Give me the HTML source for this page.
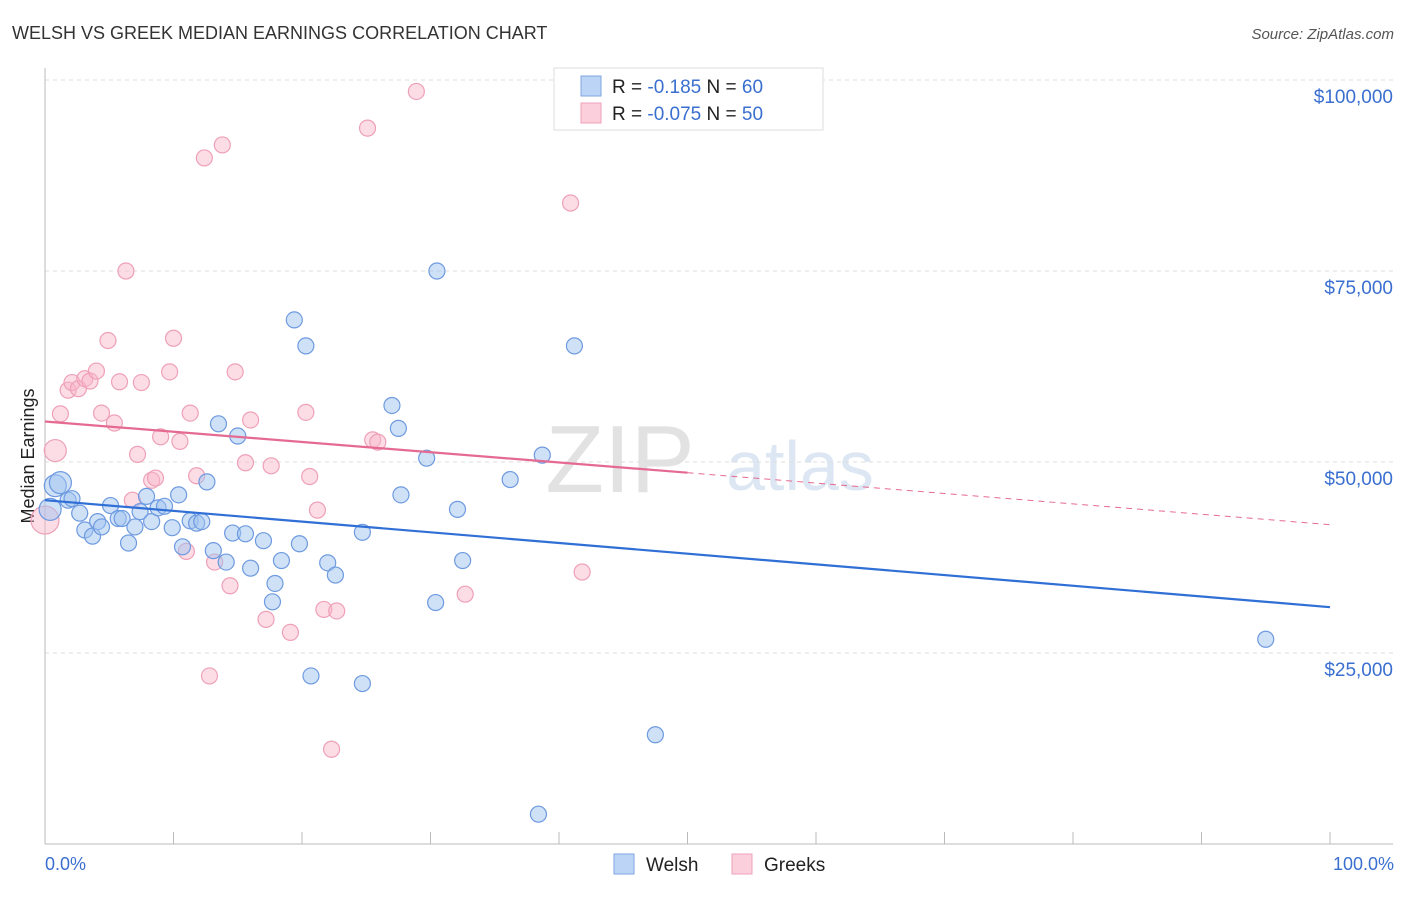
<!DOCTYPE html>
<html><head><meta charset="utf-8"><style>
body{margin:0;background:#fff;font-family:"Liberation Sans",sans-serif}
svg text{font-family:"Liberation Sans",sans-serif}
</style></head><body>
<svg width="1406" height="892" xmlns="http://www.w3.org/2000/svg">
<text x="12" y="39" font-size="18" fill="#333">WELSH VS GREEK MEDIAN EARNINGS CORRELATION CHART</text>
<text x="1394" y="39" font-size="15" fill="#555" font-style="italic" text-anchor="end">Source: ZipAtlas.com</text>
<text x="620" y="492" font-size="96" fill="#e2e2e2" font-family="Liberation Serif" text-anchor="middle">ZIP</text>
<text x="800" y="490" font-size="70" fill="#dde6f3" text-anchor="middle">atlas</text>
<g id="grid"></g>
<g id="axes"></g>
<text x="34" y="456" font-size="18" fill="#222" text-anchor="middle" transform="rotate(-90 34 456)">Median Earnings</text>
<text x="45" y="870" font-size="18" fill="#3a6fd0">0.0%</text>
<text x="1394" y="870" font-size="18" fill="#3a6fd0" text-anchor="end">100.0%</text>
<g id="pts"></g>
<g id="lines"></g>
<g>
<rect x="554" y="68" width="269" height="62" fill="#fff" stroke="#ddd"/>
<rect x="581" y="76" width="20" height="20" fill="#bcd4f5" stroke="#7fa6e0"/>
<rect x="581" y="103" width="20" height="20" fill="#fbd0dc" stroke="#eea0b8"/>
<text x="612" y="93" font-size="19" fill="#222">R = <tspan fill="#3a6fd0"> -0.185</tspan>   N = <tspan fill="#3a6fd0">60</tspan></text>
<text x="612" y="120" font-size="19" fill="#222">R = <tspan fill="#3a6fd0">-0.075</tspan>   N = <tspan fill="#3a6fd0">50</tspan></text>
</g>
<g>
<rect x="614" y="854" width="20" height="20" fill="#bcd4f5" stroke="#7fa6e0"/>
<text x="646" y="871" font-size="19" fill="#222">Welsh</text>
<rect x="732" y="854" width="20" height="20" fill="#fbd0dc" stroke="#eea0b8"/>
<text x="764" y="871" font-size="19" fill="#222">Greeks</text>
</g>
</svg>
<script>
const yTicks=[25000,50000,75000,100000];
const yTickLabels=["$25,000","$50,000","$75,000","$100,000"];
const xTicks=[0,10,20,30,40,50,60,70,80,90,100];
const welshX=[0.8,1.2,1.8,2.1,2.7,3.1,3.7,4.1,4.4,5.1,5.7,6.0,6.5,7.0,7.4,7.9,8.3,8.8,9.3,9.9,10.4,10.7,11.3,11.8,12.2,12.6,13.1,13.5,14.1,14.6,15.0,15.6,16.0,17.0,17.7,17.9,18.4,19.4,19.8,20.3,20.7,22.0,22.6,24.7,24.7,27.0,27.5,27.7,29.7,30.4,30.5,32.1,32.5,36.2,38.7,38.4,41.2,47.5,95.0,0.4];
const welshY=[46900,47300,45000,45200,43300,41100,40300,42200,41500,44300,42600,42600,39400,41500,43500,45500,42200,44000,44200,41400,45700,38900,42300,42000,42200,47400,38400,55000,36900,40700,53400,40600,36100,39700,31700,34100,37100,68600,39300,65200,22000,36800,35200,21000,40800,57400,54400,45700,50500,31600,75000,43800,37100,47700,50900,3900,65200,14300,26800,43800];
const greekX=[0.0,0.8,1.2,1.8,2.1,2.6,3.1,3.5,4.0,4.4,4.9,5.4,5.8,6.3,6.8,7.2,7.5,8.3,8.6,9.0,9.7,10.0,10.5,11.0,11.3,11.8,12.4,12.8,13.2,13.8,14.4,14.8,15.6,16.0,17.2,17.6,19.1,20.3,20.6,21.2,21.7,22.3,22.7,25.1,25.5,25.9,28.9,32.7,40.9,41.8];
const greekY=[42400,51500,56300,59400,60400,59600,60900,60600,61900,56400,65900,55100,60500,75000,45000,51000,60400,47600,47900,53300,61800,66200,52700,38300,56400,48200,89800,22000,36900,91500,33800,61800,49900,55500,29400,49500,27700,56500,48100,43700,30700,12400,30500,93700,52900,52600,98500,32700,83900,35600];
function X(v){return 45+v*12.85}
function Y(v){return 844-v*191/25000}
const NS="http://www.w3.org/2000/svg";
function mk(t,a,p){const e=document.createElementNS(NS,t);for(const k in a)e.setAttribute(k,a[k]);document.getElementById(p).appendChild(e);return e}
yTicks.forEach((t,i)=>{
 const l=mk('line',{x1:45,x2:1393,y1:Y(t),y2:Y(t),stroke:'#ddd','stroke-dasharray':'4,4'},'grid');
 
 
 const tx=mk('text',{x:1393,y:Y(t)+23,'font-size':19,fill:'#3a6fd0','text-anchor':'end'},'grid');
 tx.textContent=yTickLabels[i];
 
 
});
const ax=mk('line',{x1:45,x2:45,y1:68,y2:844,stroke:'#bbb'},'axes');


const bx=mk('line',{x1:45,x2:1393,y1:844,y2:844,stroke:'#bbb'},'axes');


xTicks.forEach(t=>{
 const l=mk('line',{x1:X(t),x2:X(t),y1:832,y2:844,stroke:'#bbb'},'axes');
 
 
});
function pts(xs,ys,fill,stroke,name){
 xs.forEach((x,i)=>{
  const big=(x<1.3&&i<2)||(name==='greek-point'&&i===0)||(name==='welsh-point'&&i===xs.length-1);
  const c=mk('circle',{cx:X(x),cy:Y(ys[i]),r:big?(name==='greek-point'&&i===0?14:11):8,fill:fill,stroke:stroke,'stroke-width':1.2},'pts');
  
  
 });
}
pts(greekX,greekY,'rgba(248,180,200,0.45)','#eea0b8','greek-point');
pts(welshX,welshY,'rgba(160,195,240,0.5)','#6e9ae0','welsh-point');
const bl=mk('line',{x1:X(0),y1:Y(45000),x2:X(100),y2:Y(31000),stroke:'#2f6fd6','stroke-width':2.2},'lines');


const pl=mk('line',{x1:X(0),y1:Y(55300),x2:X(50),y2:Y(48600),stroke:'#e56a92','stroke-width':2.2},'lines');


const pd=mk('line',{x1:X(50),y1:Y(48600),x2:X(100),y2:Y(41800),stroke:'#e56a92','stroke-width':1,'stroke-dasharray':'6,5'},'lines');


</script>
</body></html>
